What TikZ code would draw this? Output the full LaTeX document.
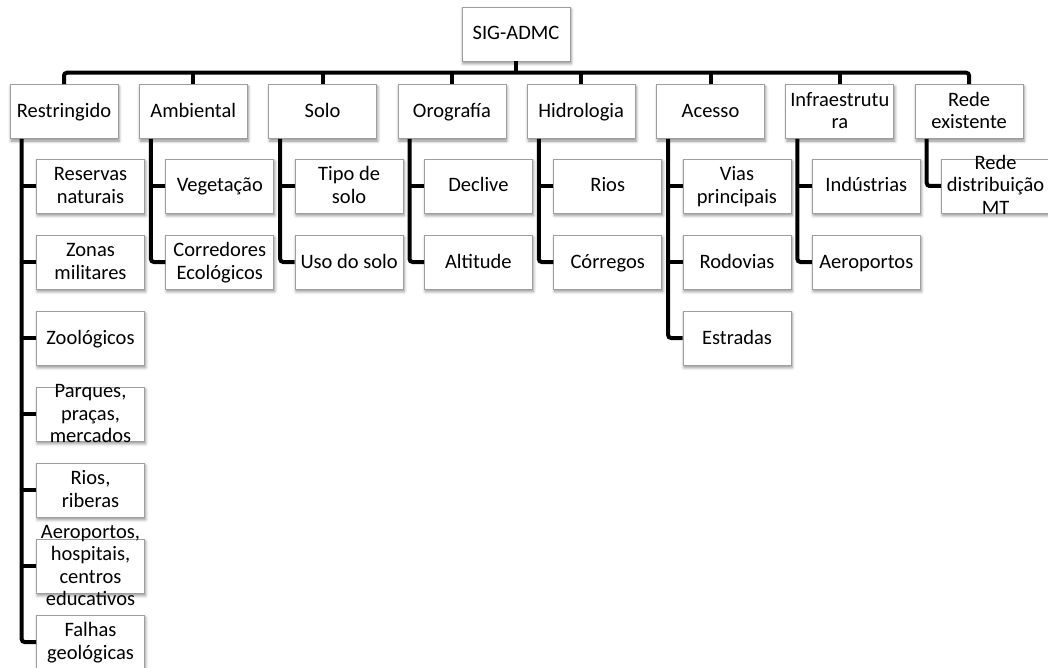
\documentclass[tikz,border=0pt]{standalone}
\usepackage{fontspec}
\setmainfont{Carlito}
\usetikzlibrary{shadows.blur,calc}
\tikzset{
 box/.style={draw=black!38, line width=0.8pt, fill=white, minimum width=108pt, minimum height=54pt, inner sep=0pt,
   blur shadow={shadow xshift=1pt, shadow yshift=-2.5pt, shadow blur radius=3pt, shadow opacity=45}},
 txt/.style={align=center, inner sep=0pt, font=\fontsize{20.5}{22.5}\selectfont},
 conn/.style={line width=4pt, draw=black, rounded corners=3pt},
}
\newcommand\mystrut{\rule[-4pt]{0pt}{20pt}}
\newcommand\mybox[3]{\node[box] (#1) at #2 {}; \node[txt] at (#1) {\mystrut#3\mystrut};}
\begin{document}
\begin{tikzpicture}[x=1pt,y=-1pt]
\useasboundingbox (0,0) rectangle (1048,668);
% root
\mybox{root}{(516,34)}{SIG-ADMC}
% level 1
\mybox{p1}{(64,111.5)}{Restringido}
\mybox{p2}{(193.3,111.5)}{Ambiental}
\mybox{p3}{(322.6,111.5)}{Solo}
\mybox{p4}{(451.9,111.5)}{Orografía}
\mybox{p5}{(581.2,111.5)}{Hidrologia}
\mybox{p6}{(710.5,111.5)}{Acesso}
\mybox{p7}{(839.8,111.5)}{Infraestrutu\\ra}
\mybox{p8}{(969.1,111.5)}{Rede\\existente}
% level 2 : Restringido
\mybox{c1a}{(90.5,186)}{Reservas\\naturais}
\mybox{c1b}{(90.5,262)}{Zonas\\militares}
\mybox{c1c}{(90.5,338)}{Zoológicos}
\mybox{c1d}{(90.5,414)}{Parques,\\praças,\\mercados}
\mybox{c1e}{(90.5,490)}{Rios,\\riberas}
\mybox{c1f}{(90.5,566)}{Aeroportos,\\hospitais,\\centros\\educativos}
\mybox{c1g}{(90.5,642)}{Falhas\\geológicas}
% Ambiental
\mybox{c2a}{(219.8,186)}{Vegetação}
\mybox{c2b}{(219.8,262)}{Corredores\\Ecológicos}
% Solo
\mybox{c3a}{(349.1,186)}{Tipo de\\solo}
\mybox{c3b}{(349.1,262)}{Uso do solo}
% Orografia
\mybox{c4a}{(478.4,186)}{Declive}
\mybox{c4b}{(478.4,262)}{Altitude}
% Hidrologia
\mybox{c5a}{(607.7,186)}{Rios}
\mybox{c5b}{(607.7,262)}{Córregos}
% Acesso
\mybox{c6a}{(737,186)}{Vias\\principais}
\mybox{c6b}{(737,262)}{Rodovias}
\mybox{c6c}{(737,338)}{Estradas}
% Infraestrutura
\mybox{c7a}{(866.3,186)}{Indústrias}
\mybox{c7b}{(866.3,262)}{Aeroportos}
% Rede existente
\mybox{c8a}{(995.6,186)}{Rede\\distribuição\\MT}
% bus
\coordinate (bus) at (0,72.7);
\draw[conn] (root.south) -- (root.south |- bus);
\draw[conn] (p1.north) |- (bus -| p8.north) -- (p8.north);
\foreach \k in {2,...,7} \draw[conn] (p\k.north) -- (p\k.north |- bus);
% verticals
\foreach \k in {1,...,8} \coordinate (v\k) at ($(p\k.south west)+(12,0)$);
\draw[conn] (v1) |- (c1g.west);
\foreach \c in {a,b,c,d,e,f} \draw[conn] (c1\c.west) -- (c1\c.west -| v1);
\draw[conn] (v2) |- (c2b.west);
\draw[conn] (c2a.west) -- (c2a.west -| v2);
\draw[conn] (v3) |- (c3b.west);
\draw[conn] (c3a.west) -- (c3a.west -| v3);
\draw[conn] (v4) |- (c4b.west);
\draw[conn] (c4a.west) -- (c4a.west -| v4);
\draw[conn] (v5) |- (c5b.west);
\draw[conn] (c5a.west) -- (c5a.west -| v5);
\draw[conn] (v6) |- (c6c.west);
\draw[conn] (c6a.west) -- (c6a.west -| v6);
\draw[conn] (c6b.west) -- (c6b.west -| v6);
\draw[conn] (v7) |- (c7b.west);
\draw[conn] (c7a.west) -- (c7a.west -| v7);
\draw[conn] (v8) |- (c8a.west);
\end{tikzpicture}
\end{document}
